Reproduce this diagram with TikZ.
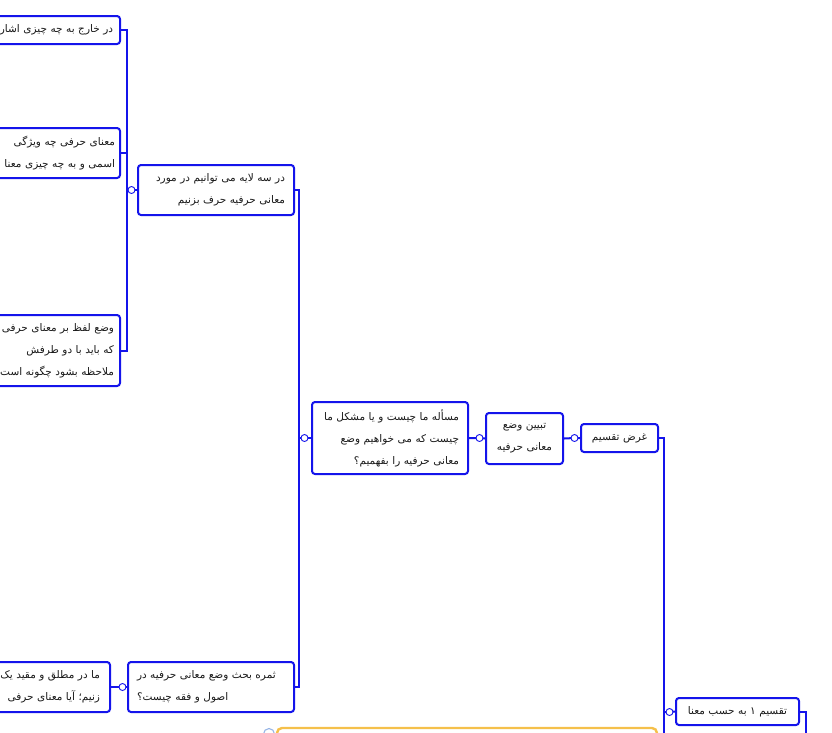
\documentclass[tikz,border=0pt]{standalone}
\usepackage{fontspec}
\usetikzlibrary{backgrounds}
\TeXXeTstate=1
\newfontfamily\arabicfont[Script=Arabic]{DejaVu Sans}
\newcommand\fa[1]{\beginR #1\endR}
\definecolor{mmblue}{RGB}{20,20,235}
\definecolor{mmyellow}{RGB}{245,192,75}
\definecolor{mmlight}{RGB}{150,180,230}
\begin{document}
\begin{tikzpicture}[x=1pt,y=-1pt,
  box/.style={draw=mmblue, line width=2pt, rounded corners=3pt, fill=white,
    inner xsep=7pt, inner ysep=0pt, text=black!90,
    font=\arabicfont\fontsize{10.5}{22}\selectfont},
  link/.style={draw=mmblue, line width=2pt},
  knob/.style={circle, draw=mmblue, line width=0.9pt, fill=white, inner sep=0pt, minimum size=7pt}]
\useasboundingbox (0,0) rectangle (832,732);
\clip (0,0) rectangle (832,732);

% boxes
\node[box, text width=216pt, minimum height=28pt, align=right] (B1) at (5,30) {\fa{در خارج به چه چیزی اشاره}};
\node[box, inner xsep=5pt, text width=220pt, minimum height=50pt, align=right] (B2) at (5,153) {\fa{معنای حرفی چه ویژگی}\\\fa{اسمی و به چه چیزی معنا}};
\node[box, inner xsep=6pt, text width=218pt, minimum height=71pt, align=right] (B3) at (5,350.5) {\fa{وضع لفظ بر معنای حرفی}\\\fa{که باید با دو طرفش}\hspace*{4pt}\\\fa{ملاحظه بشود چگونه است}};
\node[box, inner xsep=9pt, text width=138pt, minimum height=50pt, align=right] (B4) at (216,190) {\fa{در سه لایه می توانیم در مورد}\\\fa{معانی حرفیه حرف بزنیم}};
\node[box, inner xsep=9pt, text width=138pt, minimum height=72pt, align=right] (B5) at (390,438) {\fa{مسأله ما چیست و یا مشکل ما}\\\fa{چیست که می خواهیم وضع}\\\fa{معانی حرفیه را بفهمیم؟}};
\node[box, text width=63pt, minimum height=51pt, align=center] (B6) at (524.5,438.5) {\fa{تبیین وضع}\\\fa{معانی حرفیه}};
\node[box, text width=63pt, minimum height=28pt, align=center] (B7) at (619.5,438) {\fa{غرض تقسیم}};
\node[box, inner xsep=9pt, text width=148pt, minimum height=50pt, align=left] (B8) at (211,687) {\fa{ثمره بحث وضع معانی حرفیه در}\\\fa{اصول و فقه چیست؟}};
\node[box, inner xsep=10pt, text width=200pt, minimum height=50pt, align=right] (B9) at (0,687) {\fa{ما در مطلق و مقید یک}\\\fa{زنیم؛ آیا معنای حرفی}};
\node[box, text width=109pt, minimum height=27pt, align=center] (B10) at (737.5,711.5) {\fa{تقسیم ۱ به حسب معنا}};
\node[draw=mmyellow, line width=2.4pt, rounded corners=5pt, fill=white,
  minimum width=380pt, minimum height=64pt, inner sep=0pt] (Y) at (467,760) {};

% knobs
\node[knob] (k4) at (131.5,190) {};
\node[knob] (k5) at (304.5,438) {};
\node[knob] (k6) at (479.5,438) {};
\node[knob] (k7) at (574.5,438) {};
\node[knob] (k9) at (122.5,687) {};
\node[knob] (k10) at (669.5,712) {};
\node[circle, draw=mmlight, line width=1.1pt, fill=white, inner sep=0pt, minimum size=11pt] (ky) at (269,734) {};

% spines
\coordinate (sp1) at (127,190);
\coordinate (sp2) at (299,438);
\coordinate (sp3) at (664,712);
\coordinate (sp3end) at (664,745);
\coordinate (sp4end) at (806,745);

\begin{scope}[on background layer]
\draw[link] (B1.east) -| (sp1);
\draw[link] (B2.east) -| (sp1);
\draw[link] (B3.east) -| (sp1);
\draw[link] (sp1) -- (k4.center);
\draw[link] (k4.center) -- (B4.west);
\draw[link] (B4.east) -| (sp2);
\draw[link] (B8.east) -| (sp2);
\draw[link] (sp2) -- (k5.center) -- (B5.west);
\draw[link] (B5.east) -- (k6.center) -- (B6.west);
\draw[link] (B6.east) -- (k7.center) -- (B7.west);
\draw[link] (B7.east) -| (sp3) -- (sp3end);
\draw[link] (sp3) -- (k10.center) -- (B10.west);
\draw[link] (B9.east) -- (k9.center) -- (B8.west);
\draw[link] (B10.east) -| (sp4end);
\end{scope}
\end{tikzpicture}
\end{document}
